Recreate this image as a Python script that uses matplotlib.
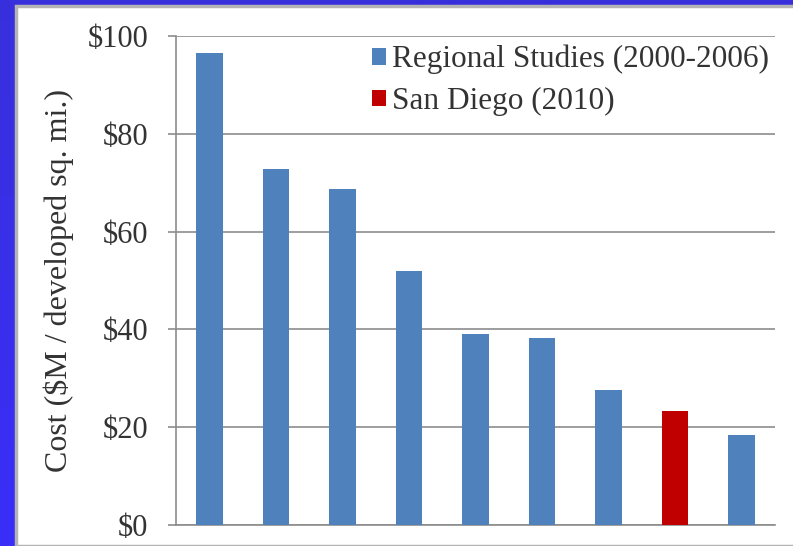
import matplotlib
matplotlib.use("Agg")
import matplotlib.pyplot as plt
import numpy as np
from matplotlib.patches import Patch, Rectangle

# values ($M per developed sq. mi.)
studies = ["1", "2", "3", "4", "5", "6", "7", "8", "9"]
cost = [96.5, 72.7, 68.8, 51.9, 39.0, 38.2, 27.7, 23.3, 18.4]
is_san_diego = [False, False, False, False, False, False, False, True, False]
yticks = [0, 20, 40, 60, 80, 100]
ytick_labels = ["$0", "$20", "$40", "$60", "$80", "$100"]
legend_labels = ["Regional Studies (2000-2006)", "San Diego (2010)"]

BLUE = "#4f81bd"
RED = "#c00000"
GRID = "#8c8c8c"
INK = "#333333"
SERIF = ["Liberation Serif", "DejaVu Serif"]

W, H = 793, 546
fig = plt.figure(figsize=(W / 100, H / 100), dpi=100)

# blue slide background with a slight vertical gradient
bg = fig.add_axes([0, 0, 1, 1])
grad = np.linspace(0, 1, 256).reshape(-1, 1)
top = np.array([0x38, 0x30, 0xdc]) / 255
bot = np.array([0x3a, 0x2e, 0xf8]) / 255
img = top + (bot - top) * grad[..., None]
bg.imshow(img, aspect="auto", extent=[0, 1, 0, 1], origin="upper")
bg.set_xlim(0, 1)
bg.set_ylim(0, 1)
bg.axis("off")

# white chart panel with its grey frame
bg.add_patch(Rectangle((16 / W, 0), 1, (H - 6) / H, facecolor="white",
                       edgecolor="#b4b4b4", linewidth=2.5, transform=bg.transAxes))

ax = fig.add_axes([176 / W, 21 / H, (775 - 176) / W, (525 - 36) / H])
ax.set_facecolor("none")
x = np.arange(len(studies))
colors = [RED if sd else BLUE for sd in is_san_diego]
ax.bar(x, cost, width=0.4, color=colors, zorder=3)

ax.set_xlim(-0.5, len(studies) - 0.5)
ax.set_ylim(0, 100)
ax.set_yticks(yticks)
ax.set_yticklabels(ytick_labels, family=SERIF, fontsize=22, color=INK)
ax.set_xticks([])
ax.yaxis.grid(True, color=GRID, linewidth=1.2, zorder=0)
ax.tick_params(axis="y", length=6, width=1.2, color=GRID, pad=14)
for side in ["top", "right"]:
    ax.spines[side].set_visible(False)
for side in ["left", "bottom"]:
    ax.spines[side].set_color(GRID)
    ax.spines[side].set_linewidth(1.2)

ax.set_ylabel("Cost ($M / developed sq. mi.)", family=SERIF, fontsize=23,
              color=INK, labelpad=10)

handles = [Patch(facecolor=BLUE), Patch(facecolor=RED)]
ax.legend(handles, legend_labels, loc="upper left",
          bbox_to_anchor=(372 / W, 1 - 45 / H), bbox_transform=fig.transFigure,
          frameon=False, prop={"family": SERIF, "size": 22.5},
          handlelength=0.45, handleheight=0.45, handletextpad=0.2,
          labelspacing=0.4, borderpad=0, borderaxespad=0, labelcolor=INK)

fig.savefig("out.png", dpi=100)
